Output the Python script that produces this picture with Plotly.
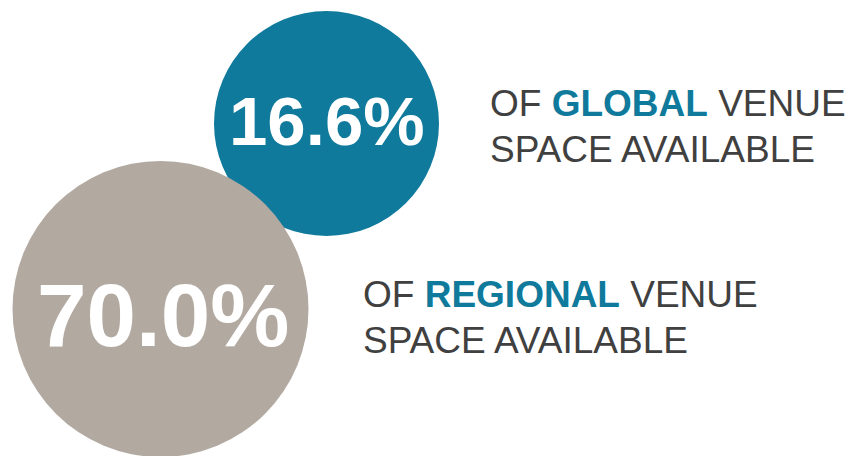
import plotly.graph_objects as go

values = [16.6, 70.0]
value_labels = ["16.6%", "70.0%"]
scopes = ["GLOBAL", "REGIONAL"]
circle_colors = ["#0F7A9C", "#B2A9A1"]
accent = "#0F7A9C"
text_color = "#404040"

W, H = 852, 456
fig = go.Figure()

# circles (centre x, centre y, radius) in pixel coordinates
circles = [(326.5, 123.5, 112.5), (160.5, 309, 148)]
for (cx, cy, r), col in zip(circles, circle_colors):
    fig.add_shape(type="circle", xref="x", yref="y",
                  x0=cx - r, x1=cx + r, y0=cy - r, y1=cy + r,
                  fillcolor=col, line=dict(width=0), layer="below")

font = "Arial, Liberation Sans, sans-serif"
big = [(327, 121, 69), (163, 315, 89)]
for (x, y, s), lab in zip(big, value_labels):
    fig.add_annotation(x=x, y=y, xref="x", yref="y", text=f"<b>{lab}</b>",
                       showarrow=False, xanchor="center", yanchor="middle",
                       font=dict(family=font, size=s, color="white"))

side = [(488, 103, 149), (361, 294, 340)]
for (x, y1, y2), scope in zip(side, scopes):
    fig.add_annotation(x=x, y=y1, xref="x", yref="y",
                       text=f"OF <b><span style='color:{accent}'>{scope}</span></b> VENUE",
                       showarrow=False, xanchor="left", yanchor="middle",
                       font=dict(family=font, size=37, color=text_color))
    fig.add_annotation(x=x, y=y2, xref="x", yref="y",
                       text="SPACE AVAILABLE",
                       showarrow=False, xanchor="left", yanchor="middle",
                       font=dict(family=font, size=37, color=text_color))

fig.update_layout(width=W, height=H, margin=dict(l=0, r=0, t=0, b=0),
                  paper_bgcolor="white", plot_bgcolor="white", showlegend=False)
fig.update_xaxes(range=[0, W], visible=False, fixedrange=True)
fig.update_yaxes(range=[H, 0], visible=False, fixedrange=True)
fig.write_html("out.html", config={"displayModeBar": False},
               post_script="document.body.style.margin='0';document.body.style.overflow='hidden';")
